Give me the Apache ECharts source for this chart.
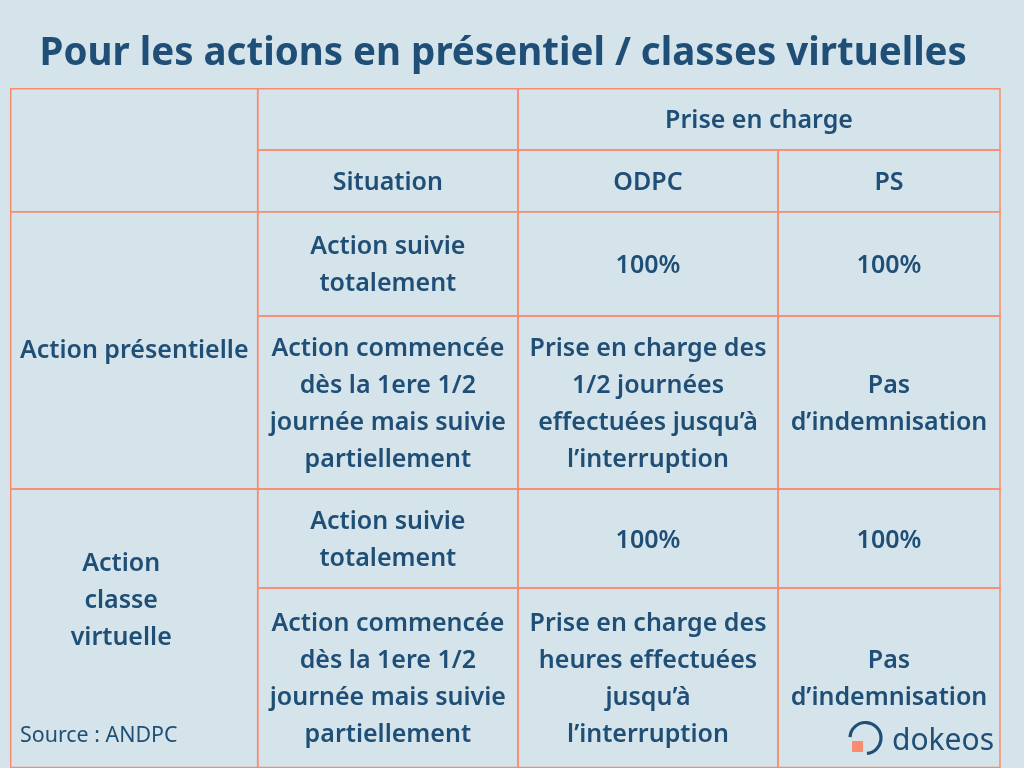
<!DOCTYPE html>
<html>
<head>
<meta charset="utf-8">
<style>
  html, body { margin: 0; padding: 0; background: #d5e4ea; }
  #chart { width: 1024px; height: 768px; }
</style>
<script src="https://cdn.jsdelivr.net/npm/echarts@6/dist/echarts.min.js"></script>
</head>
<body>
<div id="chart"></div>
<script>
// contenu du tableau
var titleText = 'Pour les actions en présentiel / classes virtuelles';
var headerTop = 'Prise en charge';
var headerCols = ['Situation', 'ODPC', 'PS'];
var actionTypes = ['Action présentielle', 'Action\nclasse\nvirtuelle'];
var situations = [
    'Action suivie\ntotalement',
    'Action commencée\ndès la 1ere 1/2\njournée mais suivie\npartiellement',
    'Action suivie\ntotalement',
    'Action commencée\ndès la 1ere 1/2\njournée mais suivie\npartiellement'
];
var odpc = [
    '100%',
    'Prise en charge des\n1/2 journées\neffectuées jusqu’à\nl’interruption',
    '100%',
    'Prise en charge des\nheures effectuées\njusqu’à\nl’interruption'
];
var ps = ['100%', 'Pas\nd’indemnisation', '100%', 'Pas\nd’indemnisation'];
var sourceText = 'Source : ANDPC';
var brandText = 'dokeos';

// bords des colonnes et des lignes
var colEdges = [10.7, 257.7, 518, 778, 1000];
var rowEdges = [88.7, 150, 211.7, 316, 489, 588, 767.4];

var textColor = '#1f4e76';
var lineColor = '#f98b6e';
var fontName = 'Noto Sans';

// [col, ligne, nb colonnes, nb lignes, texte, decalage x, decalage y]
var cells = [
    [0, 0, 1, 2, '', 0, 0],
    [1, 0, 1, 1, '', 0, 0],
    [2, 0, 2, 1, headerTop, 0, 0],
    [1, 1, 1, 1, headerCols[0], 0, 0],
    [2, 1, 1, 1, headerCols[1], 0, 0],
    [3, 1, 1, 1, headerCols[2], 0, 0],
    [0, 2, 1, 2, actionTypes[0], 0, -1],
    [0, 4, 1, 2, actionTypes[1], -13, -29]
];
situations.forEach(function (s, i) {
    cells.push([1, i + 2, 1, 1, s, 0, 0]);
    cells.push([2, i + 2, 1, 1, odpc[i], 0, 0]);
    cells.push([3, i + 2, 1, 1, ps[i], 0, 0]);
});

var chart = echarts.init(document.getElementById('chart'));
chart.setOption({
    backgroundColor: '#d5e4ea',
    animation: false,
    title: {
        text: titleText,
        left: 34.5,
        top: 30,
        textStyle: { color: textColor, fontFamily: fontName, fontSize: 38.5, fontWeight: 700 }
    },
    grid: { left: 0, right: 0, top: 0, bottom: 0 },
    xAxis: { type: 'value', min: 0, max: 1024, show: false },
    yAxis: { type: 'value', min: 0, max: 768, inverse: true, show: false },
    series: [{
        type: 'custom',
        clip: false,
        data: cells,
        encode: { x: 0, y: 1 },
        renderItem: function (params, api) {
            var c = cells[params.dataIndex];
            var p0 = api.coord([colEdges[c[0]], rowEdges[c[1]]]);
            var p1 = api.coord([colEdges[c[0] + c[2]], rowEdges[c[1] + c[3]]]);
            return {
                type: 'group',
                children: [{
                    type: 'rect',
                    shape: { x: p0[0], y: p0[1], width: p1[0] - p0[0], height: p1[1] - p0[1] },
                    style: { fill: 'none', stroke: lineColor, lineWidth: 1.5 }
                }, {
                    type: 'text',
                    style: {
                        text: c[4],
                        x: (p0[0] + p1[0]) / 2 + c[5],
                        y: (p0[1] + p1[1]) / 2 + c[6] + 2,
                        align: 'center',
                        verticalAlign: 'middle',
                        fill: textColor,
                        fontFamily: fontName,
                        fontSize: 25,
                        fontWeight: 600,
                        lineHeight: 37
                    }
                }]
            };
        }
    }],
    graphic: [
        {
            type: 'text',
            left: 20,
            top: 725,
            style: { text: sourceText, fill: textColor, fontFamily: fontName, fontSize: 21.4, fontWeight: 400 }
        },
        {
            type: 'arc',
            shape: { cx: 865.5, cy: 738, r: 15.5, startAngle: -Math.PI * 0.98, endAngle: Math.PI * 0.47, clockwise: true },
            style: { fill: 'none', stroke: textColor, lineWidth: 3.2 }
        },
        {
            type: 'rect',
            shape: { x: 852, y: 741, width: 11, height: 11 },
            style: { fill: '#f98b6e' }
        },
        {
            type: 'text',
            left: 892,
            top: 726,
            style: { text: brandText, fill: textColor, fontFamily: fontName, fontSize: 30, fontWeight: 400 }
        }
    ]
});
</script>
</body>
</html>
